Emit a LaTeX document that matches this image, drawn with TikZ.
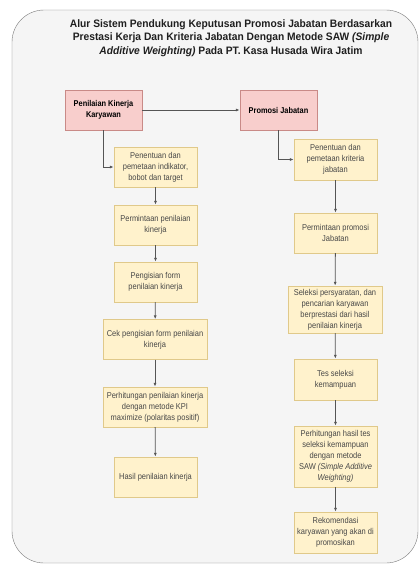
\documentclass[tikz,border=0pt]{standalone}
\usepackage{fontspec}
\setmainfont{Liberation Sans}
\usetikzlibrary{arrows.meta}
\definecolor{bgfill}{HTML}{F5F5F5}
\definecolor{bgline}{HTML}{7A7A7A}
\definecolor{pinkfill}{HTML}{F8CECC}
\definecolor{pinkline}{HTML}{C98A87}
\definecolor{yelfill}{HTML}{FFF2CC}
\definecolor{yelline}{HTML}{E0C98A}
\definecolor{arrline}{HTML}{555555}
\newfontfamily\narrowfont[FakeStretch=0.88]{Liberation Sans}
\newfontfamily\titlefont[FakeStretch=0.95]{Liberation Sans}
\begin{document}
\begin{tikzpicture}[x=1pt,y=-1pt,
  head/.style={draw=pinkline, fill=pinkfill, minimum width=77pt, minimum height=40pt, inner sep=2pt, align=center, font=\narrowfont\fontsize{8.4}{11}\selectfont\bfseries},
  stepbox/.style={draw=yelline, fill=yelfill, minimum width=83pt, minimum height=40pt, inner sep=2pt, align=center, font=\narrowfont\fontsize{8.5}{11}\selectfont, text=black!72},
  flow/.style={->, >={Latex[length=4pt,width=3pt]}, draw=arrline, thick}]
\useasboundingbox (0,0) rectangle (420,565);
%%%%%%%%%%%%%%%%%%%%%%%%%%%%%%% frame and title
\draw[draw=bgline, fill=bgfill, rounded corners=32pt] (12,10) rectangle (418,563);
\node(title) at (231,38)[align=center, text=black!88, font=\titlefont\fontsize{10.8}{13.5}\selectfont\bfseries]{Alur Sistem Pendukung Keputusan Promosi Jabatan Berdasarkan\\ Prestasi Kerja Dan Kriteria Jabatan Dengan Metode SAW \textit{(Simple}\\ \textit{Additive Weighting)} Pada PT. Kasa Husada Wira Jatim};
%%%%%%%%%%%%%%%%%%%%%%%%%%%%%%% Penilaian Kinerja
\node(kinerja)[head] at (103.5,110){Penilaian Kinerja\\ Karyawan};
\node(k1)[stepbox] at (155.5,167){Penentuan dan\\ pemetaan indikator,\\ bobot dan target};
\node(k2)[stepbox] at (155.5,225){Permintaan penilaian\\ kinerja};
\node(k3)[stepbox] at (155.5,282){Pengisian form\\ penilaian kinerja};
\node(k4)[stepbox, minimum width=104pt] at (155,339.5){Cek pengisian form penilaian\\ kinerja};
\node(k5)[stepbox, minimum width=104pt] at (155,407){Perhitungan penilaian kinerja\\ dengan metode KPI\\ maximize (polaritas positif)};
\node(k6)[stepbox] at (155.5,477){Hasil penilaian kinerja};
%%%%%%%%%%%%%%%%%%%%%%%%%%%%%%% Promosi Jabatan
\node(promosi)[head] at (278.5,110){Promosi Jabatan};
\node(p1)[stepbox, minimum height=41pt] at (335.5,159.5){Penentuan dan\\ pemetaan kriteria\\ jabatan};
\node(p2)[stepbox] at (335.5,233){Permintaan promosi\\ Jabatan};
\node(p3)[stepbox, minimum width=94pt, minimum height=47pt] at (335,309.5){Seleksi persyaratan, dan\\ pencarian karyawan\\ berprestasi dari hasil\\ penilaian kinerja};
\node(p4)[stepbox, minimum height=41pt] at (335.5,379.5){Tes seleksi\\ kemampuan};
\node(p5)[stepbox, minimum height=61pt] at (335.5,456.5){Perhitungan hasil tes\\ seleksi kemampuan\\ dengan metode\\ SAW \textit{(Simple Additive}\\ \textit{Weighting)}};
\node(p6)[stepbox, minimum height=41pt] at (335.5,532.5){Rekomendasi\\ karyawan yang akan di\\ promosikan};
%%%%%%%%%%%%%%%%%%%%%%%%%%%%%%% connectors
\draw[flow] (kinerja) -- (promosi);
\draw[flow] (kinerja.south) |- (k1.west);
\draw[flow] (k1) -- (k2);
\draw[flow] (k2) -- (k3);
\draw[flow] (k3) -- (k4);
\draw[flow] (k4) -- (k5);
\draw[flow] (k5) -- (k6);
\draw[flow] (promosi.south) |- (p1.west);
\draw[flow] (p1) -- (p2);
\draw[flow] (p2) -- (p3);
\draw[flow] (p3) -- (p4);
\draw[flow] (p4) -- (p5);
\draw[flow] (p5) -- (p6);
\end{tikzpicture}
\end{document}
